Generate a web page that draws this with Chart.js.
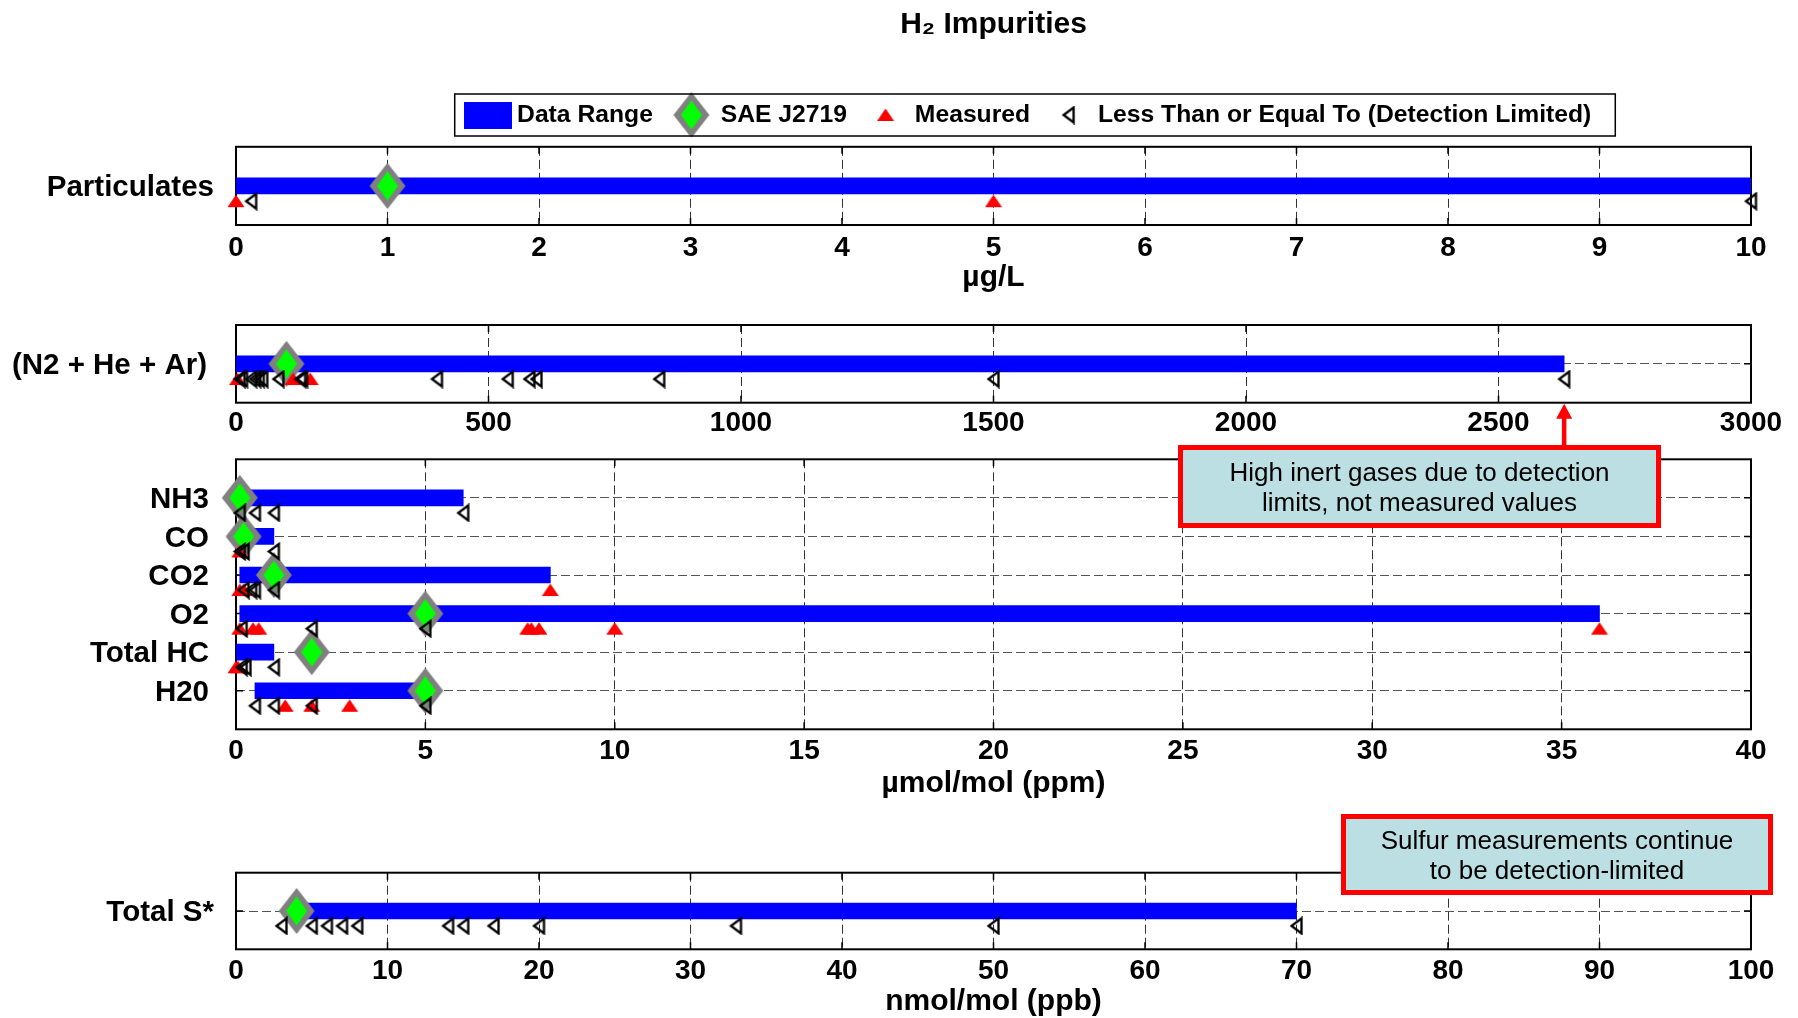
<!DOCTYPE html>
<html>
<head>
<meta charset="utf-8">
<title>H2 Impurities</title>
<script src="https://cdn.jsdelivr.net/npm/chart.js@4.4.1/dist/chart.umd.min.js"></script>
<style>
  html, body { margin: 0; padding: 0; background: #fff; overflow: hidden; }
  #page { position: relative; width: 1798px; height: 1018px; }
  #page canvas { position: absolute; left: 0; top: 0; }
</style>
</head>
<body>
<div id="page">
  <canvas id="chartParticulates" width="1798" height="1018"></canvas>
  <canvas id="chartGases" width="1798" height="1018"></canvas>
  <canvas id="chartInert" width="1798" height="1018"></canvas>
  <canvas id="chartSulfur" width="1798" height="1018"></canvas>
</div>
<script>
// ---- data ----
const legendLabels = ['Data Range', 'SAE J2719', 'Measured', 'Less Than or Equal To (Detection Limited)'];

const particulateLabels = ['Particulates'];
const particulateTicks = [0, 1, 2, 3, 4, 5, 6, 7, 8, 9, 10];
const particulateRange = [[0, 10]];
const particulateSae = [1];
const particulateMeasured = [[0, 5]];
const particulateLessThan = [[0.1, 10]];

const inertLabels = ['(N2 + He + Ar)'];
const inertTicks = [0, 500, 1000, 1500, 2000, 2500, 3000];
const inertRange = [[0, 2630]];
const inertSae = [100];
const inertMeasured = [[3, 113, 147]];
const inertLessThan = [[7, 12, 30, 38, 45, 52, 84, 127, 131, 398, 538, 581, 595, 838, 1500, 2630]];

const gasLabels = ['NH3', 'CO', 'CO2', 'O2', 'Total HC', 'H20'];
const gasTicks = [0, 5, 10, 15, 20, 25, 30, 35, 40];
const gasRange = [[0, 6], [0, 1], [0.1, 8.3], [0.1, 36], [0, 1], [0.5, 5]];
const gasSae = [0.1, 0.2, 1, 5, 2, 5];
const gasMeasured = [[], [0.1], [0.1, 0.2, 8.3], [0.1, 0.45, 0.6, 7.7, 7.8, 8, 10, 36], [0, 0.05], [1.3, 2, 3]];
const gasLessThan = [[0.1, 0.5, 1, 6], [0.1, 0.2, 1], [0.2, 0.4, 0.5, 1], [0.15, 2, 5], [0.15, 0.25, 1], [0.5, 1, 2, 5]];

const sulfurLabels = ['Total S*'];
const sulfurTicks = [0, 10, 20, 30, 40, 50, 60, 70, 80, 90, 100];
const sulfurRange = [[4, 70]];
const sulfurSae = [4];
const sulfurMeasured = [[]];
const sulfurLessThan = [[3, 5, 6, 7, 8, 14, 15, 17, 20, 33, 50, 70]];

const inertNote = ['High inert gases due to detection', 'limits, not measured values'];
const sulfurNote = ['Sulfur measurements continue', 'to be detection-limited'];

// ---- marker images ----
function makeCanvas(w, h, draw) {
    const c = document.createElement('canvas');
    c.width = w;
    c.height = h;
    draw(c.getContext('2d'));
    return c;
}

const diamondIcon = makeCanvas(38, 48, g => {
    g.fillStyle = '#808080';
    g.beginPath();
    g.moveTo(19, 1); g.lineTo(37, 24); g.lineTo(19, 47); g.lineTo(1, 24);
    g.closePath();
    g.fill();
    g.fillStyle = '#00ff00';
    g.beginPath();
    g.moveTo(19, 9.5); g.lineTo(29.5, 24); g.lineTo(19, 38.5); g.lineTo(8.5, 24);
    g.closePath();
    g.fill();
});

const measuredIcon = makeCanvas(18, 14, g => {
    g.fillStyle = '#ff0000';
    g.beginPath();
    g.moveTo(9, 0.5); g.lineTo(17.5, 13); g.lineTo(0.5, 13);
    g.closePath();
    g.fill();
});

const lessThanIcon = makeCanvas(15, 19, g => {
    g.strokeStyle = '#000';
    g.lineWidth = 2.3;
    g.beginPath();
    g.moveTo(12.5, 2); g.lineTo(12.5, 17); g.lineTo(2.5, 9.5);
    g.closePath();
    g.stroke();
});

const rangeIcon = makeCanvas(48, 27, g => {
    g.fillStyle = '#0000ff';
    g.fillRect(0, 0, 48, 27);
});

const legendIcons = [rangeIcon, diamondIcon, measuredIcon, lessThanIcon];

Chart.defaults.font.family = "'Liberation Sans', Arial, Helvetica, sans-serif";
Chart.defaults.color = '#000';

const MARKER_DROP = 0.39;
const PAGE_H = 1018;

// ---- plugins ----
const framePlugin = {
    id: 'frame',
    beforeDatasetsDraw(chart) {
        const {ctx, chartArea: a, scales: {x, y}} = chart;
        ctx.save();
        ctx.strokeStyle = '#000';
        ctx.lineWidth = 1.5;
        ctx.beginPath();
        x.ticks.forEach(t => {
            const px = x.getPixelForValue(t.value);
            ctx.moveTo(px, a.top); ctx.lineTo(px, a.top + 7);
            ctx.moveTo(px, a.bottom); ctx.lineTo(px, a.bottom - 7);
        });
        y.ticks.forEach(t => {
            const py = y.getPixelForValue(t.value);
            ctx.moveTo(a.left, py); ctx.lineTo(a.left + 7, py);
            ctx.moveTo(a.right, py); ctx.lineTo(a.right - 7, py);
        });
        ctx.stroke();
        ctx.lineWidth = 2;
        ctx.strokeRect(a.left, a.top, a.right - a.left, a.bottom - a.top);
        ctx.restore();
    }
};

const headerPlugin = {
    id: 'header',
    afterLayout(chart, args, opts) {
        const t = chart.titleBlock;
        const tShift = opts.titleX - (t.left + t.right) / 2;
        t.left += tShift;
        t.right += tShift;

        const lg = chart.legend;
        const lShift = opts.legendX - (lg.left + lg.right) / 2;
        lg.left += lShift;
        lg.right += lShift;
        const labels = lg.options.labels;
        const dy = opts.legendY - (lg.top + labels.padding + labels.font.size / 2);
        lg.top += dy;
        lg.bottom += dy;
    },
    afterDraw(chart) {
        const boxes = chart.legend.legendHitBoxes;
        if (!boxes || !boxes.length) return;
        const first = boxes[0];
        const last = boxes[boxes.length - 1];
        const cy = first.top + first.height / 2;
        const {ctx} = chart;
        ctx.save();
        ctx.strokeStyle = '#000';
        ctx.lineWidth = 1.5;
        ctx.strokeRect(first.left - 16, cy - 21, last.left + last.width + 24 - (first.left - 16), 42);
        ctx.restore();
    }
};

const calloutPlugin = {
    id: 'callout',
    afterDraw(chart, args, opts) {
        if (!opts.lines) return;
        const {ctx} = chart;
        const b = opts.box;
        ctx.save();
        if (opts.arrowValue != null) {
            const px = chart.scales.x.getPixelForValue(opts.arrowValue);
            const tip = chart.chartArea.bottom + 1;
            ctx.fillStyle = '#ff0000';
            ctx.fillRect(px - 2.25, tip + 12, 4.5, b.top - tip - 12);
            ctx.beginPath();
            ctx.moveTo(px, tip);
            ctx.lineTo(px + 8, tip + 15);
            ctx.lineTo(px - 8, tip + 15);
            ctx.closePath();
            ctx.fill();
        }
        ctx.fillStyle = '#bbdfe3';
        ctx.fillRect(b.left, b.top, b.right - b.left, b.bottom - b.top);
        ctx.strokeStyle = '#ff0000';
        ctx.lineWidth = 5;
        ctx.strokeRect(b.left + 2.5, b.top + 2.5, b.right - b.left - 5, b.bottom - b.top - 5);
        ctx.fillStyle = '#000';
        ctx.font = "26px 'Liberation Sans', Arial, sans-serif";
        ctx.textAlign = 'center';
        ctx.textBaseline = 'middle';
        const cx = (b.left + b.right) / 2;
        const cy = (b.top + b.bottom) / 2 + 2;
        opts.lines.forEach((line, i) => {
            ctx.fillText(line, cx, cy + (i - (opts.lines.length - 1) / 2) * 30);
        });
        ctx.restore();
    }
};

// ---- dataset + chart builders ----
function panelDatasets(labels, range, sae, measured, lessThan) {
    const rows = labels.map((_, i) => i + 1);
    const drop = (lists) => lists.flatMap((vals, i) => vals.map(v => ({x: v, y: rows[i] + MARKER_DROP})));
    return [
        {
            type: 'bar',
            label: legendLabels[0],
            indexAxis: 'y',
            data: range.map((r, i) => ({x: r, y: rows[i]})),
            backgroundColor: '#0000ff',
            borderWidth: 0,
            barThickness: 16,
            order: 4
        },
        {
            type: 'scatter',
            label: legendLabels[1],
            data: sae.map((v, i) => ({x: v, y: rows[i]})),
            pointStyle: diamondIcon,
            pointRadius: 10,
            clip: false,
            order: 3
        },
        {
            type: 'scatter',
            label: legendLabels[2],
            data: drop(measured),
            pointStyle: measuredIcon,
            pointRadius: 6,
            clip: false,
            order: 2
        },
        {
            type: 'scatter',
            label: legendLabels[3],
            data: drop(lessThan),
            pointStyle: lessThanIcon,
            pointRadius: 6,
            clip: false,
            order: 1
        }
    ];
}

function buildPanel(canvasId, p) {
    const pluginOpts = {
        legend: {display: false},
        title: {display: false},
        tooltip: {enabled: false},
        callout: p.callout || {}
    };
    const plugins = [framePlugin, calloutPlugin];
    if (p.header) {
        pluginOpts.title = {
            display: true,
            text: 'H₂ Impurities',
            font: {size: 30, weight: 'bold', lineHeight: 1.2},
            color: '#000',
            padding: {top: 7, bottom: 47.6}
        };
        pluginOpts.legend = {
            display: true,
            position: 'top',
            labels: {
                usePointStyle: true,
                pointStyleWidth: 34,
                padding: 21.5,
                font: {size: 24.7, weight: 'bold'},
                color: '#000',
                generateLabels: () => legendLabels.map((text, i) => ({
                    text,
                    datasetIndex: i,
                    pointStyle: legendIcons[i],
                    hidden: false,
                    lineWidth: 0,
                    fontColor: '#000',
                    fillStyle: 'transparent',
                    strokeStyle: 'transparent'
                }))
            }
        };
        pluginOpts.header = {titleX: 993.5, legendX: 1031, legendY: 115};
        plugins.push(headerPlugin);
    }

    return new Chart(document.getElementById(canvasId), {
        type: 'scatter',
        data: {datasets: panelDatasets(p.labels, p.range, p.sae, p.measured, p.lessThan)},
        options: {
            responsive: false,
            animation: false,
            events: [],
            layout: {padding: {left: 0, right: 47, top: p.top || 0, bottom: 0}},
            scales: {
                x: {
                    type: 'linear',
                    min: p.ticks[0],
                    max: p.ticks[p.ticks.length - 1],
                    afterBuildTicks: scale => { scale.ticks = p.ticks.map(v => ({value: v})); },
                    afterFit: scale => { scale.height = PAGE_H - p.bottom; },
                    grid: {color: '#333', lineWidth: 1, drawTicks: false},
                    border: {display: false, dash: [9, 4]},
                    ticks: {
                        padding: p.tickPad,
                        autoSkip: false,
                        maxRotation: 0,
                        color: '#000',
                        font: {size: 28, weight: 'bold', lineHeight: 1},
                        callback: value => String(value)
                    },
                    title: {
                        display: !!p.unit,
                        text: p.unit || '',
                        color: '#000',
                        font: {size: 30, weight: 'bold', lineHeight: 1},
                        padding: {top: 0, bottom: p.unit ? PAGE_H - p.unitY - 15 : 0}
                    }
                },
                y: {
                    type: 'linear',
                    reverse: true,
                    min: 0,
                    max: p.labels.length + 1,
                    offset: false,
                    afterBuildTicks: scale => { scale.ticks = p.labels.map((_, i) => ({value: i + 1})); },
                    afterFit: scale => { scale.width = 236; },
                    grid: {color: '#555', lineWidth: 1, drawTicks: false, offset: false},
                    border: {display: false, dash: [9, 4]},
                    ticks: {
                        padding: p.labelPad,
                        labelOffset: 2,
                        autoSkip: false,
                        color: '#000',
                        font: {size: 29.5, weight: 'bold'},
                        callback: value => p.labels[value - 1] || ''
                    }
                }
            },
            plugins: pluginOpts
        },
        plugins
    });
}

buildPanel('chartParticulates', {
    header: true,
    labels: particulateLabels, ticks: particulateTicks,
    range: particulateRange, sae: particulateSae,
    measured: particulateMeasured, lessThan: particulateLessThan,
    bottom: 225, tickPad: 9, labelPad: 22,
    unit: 'µg/L', unitY: 277.5
});

buildPanel('chartGases', {
    labels: gasLabels, ticks: gasTicks,
    range: gasRange, sae: gasSae,
    measured: gasMeasured, lessThan: gasLessThan,
    top: 459.3, bottom: 729.3, tickPad: 8.4, labelPad: 27,
    unit: 'µmol/mol (ppm)', unitY: 784
});

buildPanel('chartInert', {
    labels: inertLabels, ticks: inertTicks,
    range: inertRange, sae: inertSae,
    measured: inertMeasured, lessThan: inertLessThan,
    top: 325, bottom: 402.7, tickPad: 7, labelPad: 29,
    callout: {
        lines: inertNote,
        box: {left: 1178, top: 445, right: 1661, bottom: 528},
        arrowValue: inertRange[0][1]
    }
});

buildPanel('chartSulfur', {
    labels: sulfurLabels, ticks: sulfurTicks,
    range: sulfurRange, sae: sulfurSae,
    measured: sulfurMeasured, lessThan: sulfurLessThan,
    top: 872.7, bottom: 949.3, tickPad: 8.4, labelPad: 22,
    unit: 'nmol/mol (ppb)', unitY: 1002,
    callout: {
        lines: sulfurNote,
        box: {left: 1341, top: 814, right: 1773, bottom: 895}
    }
});
</script>
</body>
</html>
